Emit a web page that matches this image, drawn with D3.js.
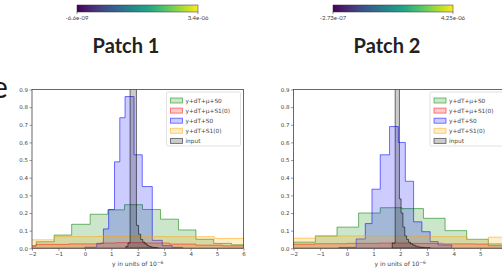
<!DOCTYPE html>
<html>
<head>
<meta charset="utf-8">
<script src="https://cdn.jsdelivr.net/npm/d3@7"></script>
<style>
  body { margin: 0; background: #fff; }
  svg { display: block; }
</style>
</head>
<body>
<div id="wrapper"></div>
<script>
// legend / series
const seriesNames = ['y+dT+\u03bc+S0', 'y+dT+\u03bc+S1(0)', 'y+dT+S0', 'y+dT+S1(0)', 'input'];
const seriesColors = ['green', 'red', 'blue', 'orange', 'black'];

// ticks and labels
const xTicks = [-2, -1, 0, 1, 2, 3, 4, 5, 6];
const yTicks = [0, 0.1, 0.2, 0.3, 0.4, 0.5, 0.6, 0.7, 0.8, 0.9];
const patchTitles = ['Patch 1', 'Patch 2'];
const cbarMinLabels = ['-6.6e-09', '-2.73e-07'];
const cbarMaxLabels = ['3.4e-06', '4.25e-06'];

// patch 1 histograms (bin edges, density)
const p1GreenEdges = [-2.52, -1.84, -1.16, -0.5, 0.2, 0.87, 1.5, 2.18, 2.86, 3.54, 4.2, 4.87, 5.55, 6.3];
const p1GreenVals = [0.015, 0.037, 0.075, 0.136, 0.193, 0.218, 0.247, 0.22, 0.165, 0.104, 0.051, 0.028, 0.02];
const p1RedEdges = [-2.5, -1.85, -0.6, 0.6, 1.2, 2.2, 3.2, 4.2, 5.2, 6.5];
const p1RedVals = [0.012, 0.022, 0.025, 0.03, 0.032, 0.03, 0.024, 0.018, 0.014];
const p1BlueEdges = [0.0, 0.45, 0.7, 0.9, 1.12, 1.32, 1.52, 1.86, 2.17, 2.55, 2.93, 3.3, 3.7];
const p1BlueVals = [0.006, 0.028, 0.11, 0.22, 0.49, 0.74, 0.86, 0.53, 0.35, 0.045, 0.015, 0.005];
const p1OrangeEdges = [-2.6, -1.16, 0.5, 2.2, 4.9, 6.5];
const p1OrangeVals = [0.048, 0.066, 0.068, 0.066, 0.056];
const p1InputEdges = [1.55, 1.63, 1.71, 1.95, 2.03, 2.11, 2.19, 2.27, 2.35, 2.43, 2.51, 2.6, 2.7, 2.8];
const p1InputVals = [0.01, 0.03, 2.2, 0.13, 0.08, 0.05, 0.035, 0.025, 0.015, 0.01, 0.006, 0.004, 0.002];

// patch 2 histograms
const p2GreenEdges = [-2.8, -1.99, -1.18, -0.37, 0.44, 1.25, 2.06, 2.87, 3.68, 4.49, 5.3, 6.11];
const p2GreenVals = [0.02, 0.035, 0.07, 0.12, 0.2, 0.23, 0.225, 0.17, 0.1, 0.051, 0.025];
const p2RedEdges = [-2.5, -1.2, 0.0, 1.2, 2.4, 3.6, 4.8, 5.3, 7.0];
const p2RedVals = [0.023, 0.026, 0.028, 0.03, 0.028, 0.025, 0.024, 0.015];
const p2BlueEdges = [-0.3, 0.35, 0.69, 0.94, 1.25, 1.6, 1.93, 2.19, 2.5, 2.81, 3.12, 3.42, 3.93];
const p2BlueVals = [0.005, 0.053, 0.14, 0.335, 0.53, 0.69, 0.6, 0.38, 0.15, 0.094, 0.038, 0.019];
const p2OrangeEdges = [-2.5, -1.18, 0.6, 2.4, 4.5, 5.3, 7.0];
const p2OrangeVals = [0.057, 0.07, 0.072, 0.066, 0.05, 0.063];
const p2InputEdges = [1.7, 1.81, 1.97, 2.03, 2.1, 2.17, 2.24, 2.31, 2.38, 2.47, 2.56, 2.66, 2.76, 2.9, 3.12];
const p2InputVals = [0.03, 2.0, 0.28, 0.2, 0.12, 0.07, 0.05, 0.035, 0.025, 0.018, 0.012, 0.008, 0.005, 0.003];

const panels = [
  {
    left: 32, right: 243.5, cbar: [77, 198], titleX: 126,
    hists: [
      [p1GreenEdges, p1GreenVals], [p1RedEdges, p1RedVals], [p1BlueEdges, p1BlueVals],
      [p1OrangeEdges, p1OrangeVals], [p1InputEdges, p1InputVals]
    ]
  },
  {
    left: 293.5, right: 507, cbar: [333, 453], titleX: 387,
    hists: [
      [p2GreenEdges, p2GreenVals], [p2RedEdges, p2RedVals], [p2BlueEdges, p2BlueVals],
      [p2OrangeEdges, p2OrangeVals], [p2InputEdges, p2InputVals]
    ]
  }
];

const dimensions = { width: 502, height: 268, top: 89.5, bottom: 248.3 };

const wrapper = d3.select('#wrapper')
  .append('svg')
  .attr('width', dimensions.width)
  .attr('height', dimensions.height)
  .style('font-family', 'Lato, "Open Sans", sans-serif');

// viridis gradient
const defs = wrapper.append('defs');
const grad = defs.append('linearGradient').attr('id', 'viridis');
d3.range(0, 1.0001, 0.1).forEach(t => {
  grad.append('stop').attr('offset', t).attr('stop-color', d3.interpolateViridis(t));
});

// cut-off slide text at top left
wrapper.append('text')
  .attr('x', -8).attr('y', 98)
  .style('font-size', '30px')
  .style('fill', '#1a1a1a')
  .text('e');

panels.forEach((p, i) => {
  // colorbar + title
  wrapper.append('rect')
    .attr('x', p.cbar[0]).attr('y', 5)
    .attr('width', p.cbar[1] - p.cbar[0]).attr('height', 7)
    .attr('fill', 'url(#viridis)')
    .attr('stroke', '#333').attr('stroke-width', 0.5);
  [p.cbar[0], p.cbar[1]].forEach(x => {
    wrapper.append('line').attr('x1', x).attr('x2', x).attr('y1', 12).attr('y2', 14)
      .attr('stroke', '#333').attr('stroke-width', 0.5);
  });
  wrapper.append('text')
    .attr('x', p.cbar[0]).attr('y', 20)
    .attr('text-anchor', 'middle')
    .style('font-size', '6px').style('fill', '#444')
    .text(cbarMinLabels[i]);
  wrapper.append('text')
    .attr('x', p.cbar[1]).attr('y', 20)
    .attr('text-anchor', 'middle')
    .style('font-size', '6px').style('fill', '#444')
    .text(cbarMaxLabels[i]);
  wrapper.append('text')
    .attr('x', p.titleX).attr('y', 53)
    .attr('text-anchor', 'middle')
    .style('font-size', '20px').style('font-weight', 700).style('fill', '#222')
    .text(patchTitles[i]);

  // scales
  const xScale = d3.scaleLinear().domain([-2, 6]).range([p.left, p.right]);
  const yScale = d3.scaleLinear().domain([0, 0.9]).range([dimensions.bottom, dimensions.top]);

  const clipId = 'clip' + i;
  defs.append('clipPath').attr('id', clipId)
    .append('rect')
    .attr('x', p.left).attr('y', dimensions.top)
    .attr('width', p.right - p.left).attr('height', dimensions.bottom - dimensions.top);

  const plot = wrapper.append('g').attr('clip-path', `url(#${clipId})`);

  const stepPath = (edges, vals) => {
    let d = `M${xScale(edges[0])},${yScale(0)}`;
    vals.forEach((v, k) => {
      d += `L${xScale(edges[k])},${yScale(v)}L${xScale(edges[k + 1])},${yScale(v)}`;
    });
    d += `L${xScale(edges[edges.length - 1])},${yScale(0)}Z`;
    return d;
  };

  p.hists.forEach(([edges, vals], k) => {
    plot.append('path')
      .attr('d', stepPath(edges, vals))
      .attr('fill', seriesColors[k]).attr('fill-opacity', 0.2)
      .attr('stroke', seriesColors[k]).attr('stroke-opacity', 0.55)
      .attr('stroke-width', 1);
  });

  // axes (only ticks that fall inside the picture)
  const shownX = xTicks.filter(t => xScale(t) <= dimensions.width - 3);
  const xAxis = wrapper.append('g')
    .attr('transform', `translate(0, ${dimensions.bottom})`)
    .call(d3.axisBottom(xScale).tickValues(shownX).tickSize(2.5).tickPadding(1.5)
      .tickFormat(d => d < 0 ? '\u2212' + Math.abs(d) : d));
  const yAxis = wrapper.append('g')
    .attr('transform', `translate(${p.left}, 0)`)
    .call(d3.axisLeft(yScale).tickValues(yTicks).tickSize(2.5).tickPadding(1.5)
      .tickFormat(d3.format('.1f')));
  [xAxis, yAxis].forEach(a => {
    a.select('.domain').remove();
    a.selectAll('line').attr('stroke', '#555').attr('stroke-width', 0.6);
    a.selectAll('text').style('font-size', '5.5px').style('fill', '#444')
      .style('font-family', '"DejaVu Sans", sans-serif');
  });

  // frame
  wrapper.append('rect')
    .attr('x', p.left).attr('y', dimensions.top)
    .attr('width', p.right - p.left).attr('height', dimensions.bottom - dimensions.top)
    .attr('fill', 'none').attr('stroke', '#444').attr('stroke-width', 0.8);

  // x label
  const xLabel = wrapper.append('text')
    .attr('x', (p.left + p.right) / 2).attr('y', 266)
    .attr('text-anchor', 'middle')
    .style('font-size', '6px').style('fill', '#444')
    .style('font-family', '"DejaVu Sans", sans-serif');
  xLabel.append('tspan').text('y in units of 10');
  xLabel.append('tspan').attr('dy', -2.5).style('font-size', '4.5px').text('\u22126');

  // legend
  const legW = 74, legH = 54;
  const legX = p.right - 3 - legW, legY = dimensions.top + 2.5;
  const legend = wrapper.append('g').attr('transform', `translate(${legX}, ${legY})`);
  legend.append('rect')
    .attr('width', legW).attr('height', legH).attr('rx', 1.5)
    .attr('fill', '#fff').attr('fill-opacity', 0.8)
    .attr('stroke', '#ccc').attr('stroke-width', 0.6);
  seriesNames.forEach((name, k) => {
    const row = legend.append('g').attr('transform', `translate(0, ${8.5 + k * 10.1})`);
    row.append('rect')
      .attr('x', 4).attr('y', -2.5).attr('width', 12).attr('height', 5)
      .attr('fill', seriesColors[k]).attr('fill-opacity', 0.2)
      .attr('stroke', seriesColors[k]).attr('stroke-opacity', 0.55).attr('stroke-width', 0.9);
    row.append('text')
      .attr('x', 19).attr('y', 2)
      .style('font-size', '5.8px').style('fill', '#444')
      .style('font-family', '"DejaVu Sans", sans-serif')
      .text(name);
  });
});
</script>
</body>
</html>
